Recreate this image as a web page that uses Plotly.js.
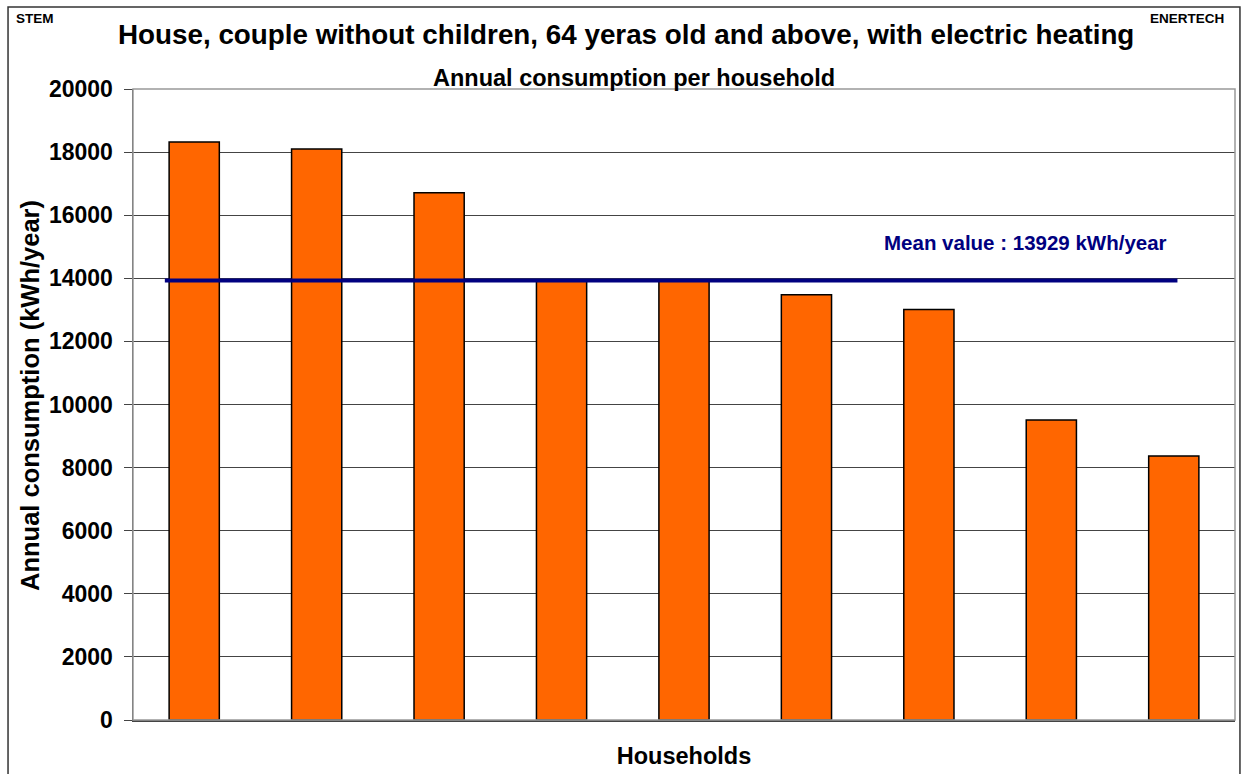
<!DOCTYPE html>
<html>
<head>
<meta charset="utf-8">
<script src="https://cdn.plot.ly/plotly-3.0.1.min.js"></script>
<style>
html,body{margin:0;padding:0;background:#fff;}
#chart{width:1245px;height:774px;}
</style>
</head>
<body>
<div id="chart"></div>
<script>
const households = [1, 2, 3, 4, 5, 6, 7, 8, 9];
const consumption = [18320, 18100, 16710, 13950, 13930, 13480, 13010, 9510, 8370];
const meanValue = 13929;
const meanLineX = [0.76, 9.03];
const yTicks = [0, 2000, 4000, 6000, 8000, 10000, 12000, 14000, 16000, 18000, 20000];

const bars = {
  type: 'bar',
  x: households,
  y: consumption,
  marker: {color: '#FF6600', line: {color: '#000000', width: 1.5}},
  hoverinfo: 'y'
};
const mean = {
  type: 'scatter',
  mode: 'lines',
  x: meanLineX,
  y: [meanValue, meanValue],
  line: {color: '#000080', width: 4},
  hoverinfo: 'y'
};

const F = 'Arial, "Liberation Sans", sans-serif';
const layout = {
  width: 1245, height: 774,
  paper_bgcolor: '#ffffff', plot_bgcolor: '#ffffff',
  showlegend: false,
  margin: {l: 133, r: 10, t: 89, b: 54},
  bargap: 0.59,
  font: {family: F, color: '#000'},
  xaxis: {
    range: [0.5, 9.5], showticklabels: false, ticks: '', showgrid: false,
    zeroline: false, showline: true, linecolor: '#444', linewidth: 1.5, mirror: false,
    title: {text: '<b>Households</b>', font: {size: 23.5, family: F}, standoff: 27}
  },
  yaxis: {
    range: [0, 20000], tickvals: yTicks, ticktext: yTicks.map(v => '<b>' + v + '</b>'),
    tickfont: {size: 23, family: F}, ticks: 'outside', ticklen: 8, tickcolor: '#444',
    ticklabelstandoff: 6,
    showgrid: true, gridcolor: '#444', gridwidth: 1, zeroline: false,
    showline: true, linecolor: '#444', linewidth: 1.5
  },
  shapes: [
    {type: 'rect', xref: 'paper', yref: 'paper', x0: 0, x1: 1, y0: 0, y1: 1, line: {color: '#999', width: 1.5}},
    {type: 'rect', xref: 'paper', yref: 'paper', x0: -0.1134, x1: 1.0045, y0: -0.2, y1: 1.13, line: {color: '#333', width: 1.5}, layer: 'below'}
  ],
  annotations: [
    {text: '<b>House, couple without children, 64 yeras old and above, with electric heating</b>', xref: 'paper', yref: 'paper', x: 0.447, y: 1.0856, xanchor: 'center', yanchor: 'middle', showarrow: false, font: {size: 27.8, family: F}},
    {text: '<b>Annual consumption per household</b>', xref: 'paper', yref: 'paper', x: 0.455, y: 1.0174, xanchor: 'center', yanchor: 'middle', showarrow: false, font: {size: 23.5, family: F}},
    {text: '<b>Annual consumption (kWh/year)</b>', xref: 'paper', yref: 'paper', x: -0.0935, y: 0.515, xanchor: 'center', yanchor: 'middle', textangle: -90, showarrow: false, font: {size: 25.5, family: F}},
    {text: '<b>Mean value : 13929 kWh/year</b>', xref: 'x', yref: 'y', x: 7.785, y: 15150, xanchor: 'center', yanchor: 'middle', showarrow: false, font: {size: 20.5, family: F, color: '#000080'}},
    {text: '<b>STEM</b>', xref: 'paper', yref: 'paper', x: -0.108, y: 1.1125, xanchor: 'left', yanchor: 'middle', showarrow: false, font: {size: 13.5, family: F}},
    {text: '<b>ENERTECH</b>', xref: 'paper', yref: 'paper', x: 0.921, y: 1.1125, xanchor: 'left', yanchor: 'middle', showarrow: false, font: {size: 13.5, family: F}}
  ]
};
Plotly.newPlot('chart', [bars, mean], layout, {displayModeBar: false, staticPlot: true});
</script>
</body>
</html>
